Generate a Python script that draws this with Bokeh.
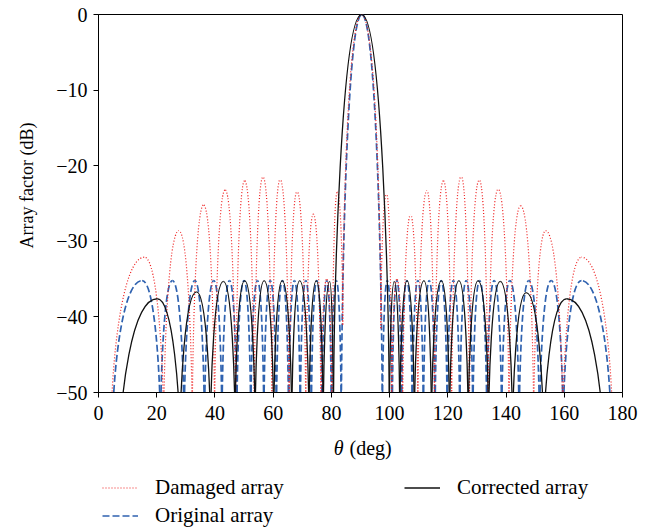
from bokeh.plotting import figure
from bokeh.layouts import column
from bokeh.models import ColumnDataSource, Legend, LegendItem, FixedTicker, Label, Range1d
from bokeh.embed import file_html
from bokeh.resources import INLINE

# ---------------- axes ----------------
theta_ticks = [0, 20, 40, 60, 80, 100, 120, 140, 160, 180]
db_ticks = [-50, -40, -30, -20, -10, 0]
db_tick_labels = ["\u221250", "\u221240", "\u221230", "\u221220", "\u221210", "0"]

# ---------------- Original array (blue dashed) ----------------
# nulls (deg) between lobes, lobe peak positions (deg) and lobe peak levels (dB)
original_nulls = [4.8, 21.3, 29.4, 36.4, 42.4, 47.5, 52.3, 56.8, 61.1, 65.3, 69.3, 73.1, 76.8, 80.0, 83.4,
                  97.5, 100.9, 104.1, 107.8, 111.6, 115.6, 119.8, 124.1, 128.6, 133.4, 138.5, 144.5, 151.5,
                  159.6, 176.1]
original_null_db = [None] * len(original_nulls)
original_peak_theta = [15.0, 25.4, 33.1, 39.6, 45.0, 50.0, 54.6, 59.0, 63.2, 67.3, 71.2, 75.0, 78.4, 81.7,
                       90.45,
                       99.2, 102.5, 105.9, 109.7, 113.6, 117.7, 121.9, 126.3, 130.9, 135.9, 141.3, 147.8,
                       155.5, 165.9]
original_peak_db = [-35.2, -35.2, -35.2, -35.2, -35.2, -35.2, -35.2, -35.2, -35.2, -35.2, -35.2, -35.2,
                    -35.2, -35.2,
                    0.0,
                    -35.2, -35.2, -35.2, -35.2, -35.2, -35.2, -35.2, -35.2, -35.2, -35.2, -35.2, -35.2,
                    -35.2, -35.2]

# ---------------- Damaged array (red dotted) ----------------
damaged_nulls = [4.3, 22.4, 32.2, 39.9, 47.1, 53.5, 59.6, 65.5, 71.2, 76.4, 80.2, 83.9,
                 97.0, 100.7, 104.5, 109.7, 115.4, 121.3, 127.4, 133.8, 141.0, 149.5, 159.5, 176.6]
damaged_null_db = [None, None, None, None, None, None, None, None, None, None, None, -41.0,
                   -41.5, None, None, None, None, None, None, None, None, None, None, None]
damaged_peak_theta = [15.8, 27.6, 36.1, 43.5, 50.2, 56.5, 62.4, 68.2, 73.8, 78.4, 82.0,
                      90.4,
                      99.0, 102.5, 107.2, 112.8, 118.5, 124.6, 130.8, 137.3, 145.0, 153.6, 165.9]
damaged_peak_db = [-32.1, -28.6, -25.2, -23.2, -22.0, -21.5, -21.8, -23.4, -26.4, -35.0, -23.5,
                   0.0,
                   -23.7, -35.0, -26.5, -23.3, -22.0, -21.4, -21.9, -23.1, -25.3, -28.6, -32.1]

# ---------------- Corrected array (black solid) ----------------
corrected_nulls = [7.4, 28.0, 38.5, 46.9, 53.8, 60.2, 66.4, 72.3, 77.2, 80.7,
                   99.9, 103.5, 108.5, 114.4, 120.6, 127.0, 134.0, 142.2, 152.9, 173.4]
corrected_null_db = [None] * len(corrected_nulls)
corrected_peak_theta = [20.2, 33.7, 42.9, 50.2, 56.9, 63.1, 69.1, 74.8, 79.4,
                        90.4,
                        101.6, 106.0, 111.8, 117.8, 123.8, 130.4, 138.0, 146.9, 160.8]
corrected_peak_db = [-37.6, -36.7, -35.3, -35.2, -35.2, -35.2, -35.2, -35.2, -35.3,
                     0.0,
                     -35.3, -35.2, -35.2, -35.2, -35.2, -35.2, -35.3, -36.8, -37.6]

series_labels = ["Damaged array", "Original array", "Corrected array"]
x_title = ["\u03b8", "(deg)"]
y_title = "Array factor (dB)"


def lobe_source(nulls, null_db, peak_theta, peak_db):
    """Each lobe is drawn as two cubic Bezier halves: null -> peak and peak -> null."""
    d = {k: [] for k in ("x0", "y0", "cx0", "cy0", "cx1", "cy1", "x1", "y1")}
    for i, (xp, yp) in enumerate(zip(peak_theta, peak_db)):
        for xn, dn in ((nulls[i], null_db[i]), (nulls[i + 1], null_db[i + 1])):
            yn = dn if dn is not None else min(yp - 20.0, -55.0)
            d["x0"].append(xn)
            d["y0"].append(yn)
            d["cx0"].append(xn)
            d["cy0"].append(yn + 0.35 * (yp - yn))
            d["cx1"].append(xn + 0.3 * (xp - xn))
            d["cy1"].append(yp)
            d["x1"].append(xp)
            d["y1"].append(yp)
    return ColumnDataSource(d)


FONT = "Liberation Serif"
RED = dict(line_color="#ee1c1c", line_width=1.2, line_dash="1 2")
BLUE = dict(line_color="#2f62b0", line_width=1.7, line_dash="7 3")
BLACK = dict(line_color="#111111", line_width=1.3)

W = 657
TOP_H = 430
BOT_H = 99
FRAME_L = 98
FRAME_R = 622

p = figure(width=W, height=TOP_H, x_range=(0, 180), y_range=(-50, 0),
           output_backend="svg", toolbar_location=None,
           min_border_left=FRAME_L, min_border_right=W - FRAME_R, min_border_top=14, min_border_bottom=38)
p.xgrid.visible = False
p.ygrid.visible = False
p.outline_line_color = "black"
p.outline_line_width = 1
p.background_fill_color = "white"
p.border_fill_color = "white"

for ax in (p.xaxis[0], p.yaxis[0]):
    ax.axis_line_color = "black"
    ax.major_tick_line_color = "black"
    ax.minor_tick_line_color = None
    ax.major_tick_out = 5
    ax.major_tick_in = 0
    ax.major_label_text_font = FONT
    ax.major_label_text_font_size = "20px"
    ax.major_label_text_color = "black"
    ax.axis_label_text_font = FONT
    ax.axis_label_text_font_style = "normal"
    ax.axis_label_text_color = "black"

p.xaxis.ticker = FixedTicker(ticks=theta_ticks)
p.xaxis.major_label_standoff = 8
p.yaxis.ticker = FixedTicker(ticks=db_ticks)
p.yaxis.major_label_overrides = {t: s for t, s in zip(db_ticks, db_tick_labels)}
p.yaxis.major_label_standoff = 6
p.yaxis.axis_label = "\u00a0" * 8 + y_title
p.yaxis.axis_label_text_font_size = "18px"
p.yaxis.axis_label_standoff = 16

r_blue = p.bezier(source=lobe_source(original_nulls, original_null_db, original_peak_theta, original_peak_db),
                  x0="x0", y0="y0", x1="x1", y1="y1", cx0="cx0", cy0="cy0", cx1="cx1", cy1="cy1", **BLUE)
r_red = p.bezier(source=lobe_source(damaged_nulls, damaged_null_db, damaged_peak_theta, damaged_peak_db),
                 x0="x0", y0="y0", x1="x1", y1="y1", cx0="cx0", cy0="cy0", cx1="cx1", cy1="cy1", **RED)
r_black = p.bezier(source=lobe_source(corrected_nulls, corrected_null_db, corrected_peak_theta, corrected_peak_db),
                   x0="x0", y0="y0", x1="x1", y1="y1", cx0="cx0", cy0="cy0", cx1="cx1", cy1="cy1", **BLACK)

# ---------------- lower panel: x-axis title and legend (canvas pixel coordinates) ----------------
# the column layout aligns this panel's frame with the chart frame above (x 98..622)
q = figure(width=W, height=BOT_H, x_range=Range1d(FRAME_L, FRAME_R), y_range=Range1d(TOP_H + BOT_H, TOP_H),
           output_backend="svg", toolbar_location=None,
           min_border_left=FRAME_L, min_border_right=W - FRAME_R, min_border_top=0, min_border_bottom=0)
q.xaxis.visible = False
q.yaxis.visible = False
q.xgrid.visible = False
q.ygrid.visible = False
q.outline_line_color = None
q.background_fill_color = "white"
q.border_fill_color = "white"

q.add_layout(Label(x=343, y=447, text=x_title[0], text_font=FONT, text_font_size="20px",
                   text_font_style="italic", text_align="right", text_baseline="middle",
                   text_color="black"))
q.add_layout(Label(x=349, y=447, text=x_title[1], text_font=FONT, text_font_size="20px",
                   text_align="left", text_baseline="middle", text_color="black"))

nan = float("nan")
l_red = q.line(x=[nan], y=[nan], **RED)
l_blue = q.line(x=[nan], y=[nan], **BLUE)
l_black = q.line(x=[nan], y=[nan], **BLACK)

legend = Legend(items=[LegendItem(label=series_labels[0], renderers=[l_red]),
                       LegendItem(label=series_labels[1], renderers=[l_blue]),
                       LegendItem(label=series_labels[2], renderers=[l_black])],
                orientation="vertical", ncols=2, location=(4, 1),
                margin=0, padding=0, spacing=3,
                glyph_width=36, glyph_height=23, label_height=23, label_standoff=17,
                label_width=246,
                label_text_font=FONT, label_text_font_size="21px", label_text_color="black",
                border_line_color=None, background_fill_alpha=0)
q.add_layout(legend)

layout = column(p, q, spacing=0)
open("out.html", "w").write(file_html(layout, INLINE))
